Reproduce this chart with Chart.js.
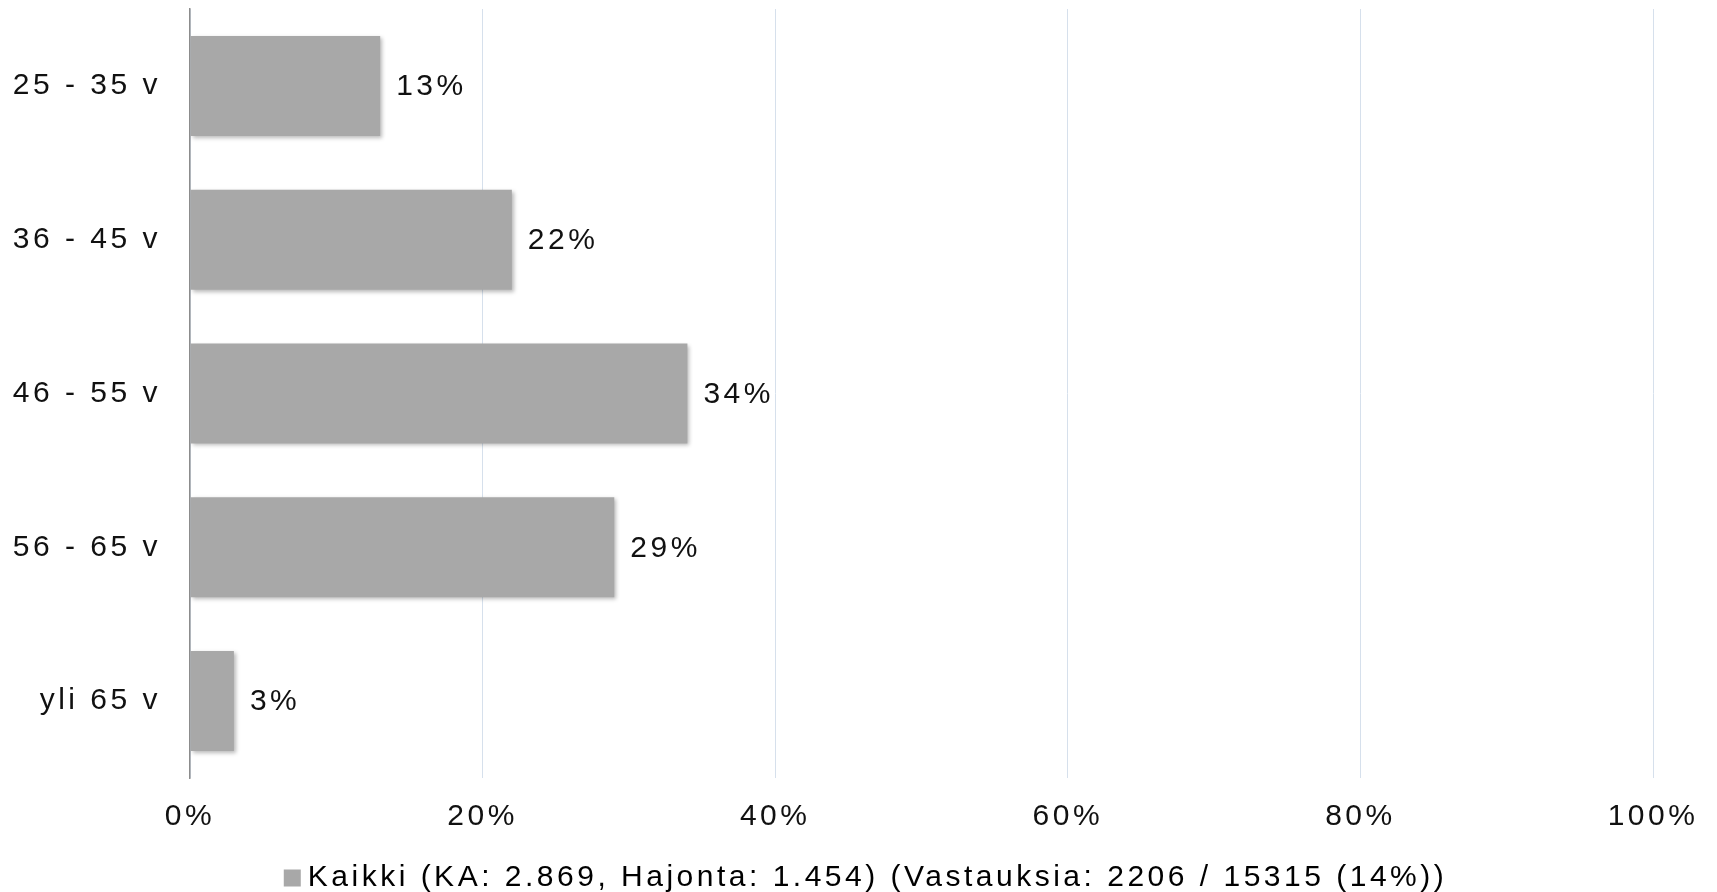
<!DOCTYPE html>
<html>
<head>
<meta charset="utf-8">
<script src="https://cdn.jsdelivr.net/npm/chart.js@4.4.1/dist/chart.umd.min.js"></script>
<style>
  html, body { margin: 0; padding: 0; background: #fff; }
  #wrap { width: 1717px; height: 892px; }
</style>
</head>
<body>
<div id="wrap"><canvas id="chart"></canvas></div>
<script>
// ikäryhmät ja osuudet (%)
const categories = ["25 - 35 v", "36 - 45 v", "46 - 55 v", "56 - 65 v", "yli 65 v"];
const values = [13, 22, 34, 29, 3];
const xTicks = [0, 20, 40, 60, 80, 100];
const seriesLabel = "Kaikki (KA: 2.869, Hajonta: 1.454) (Vastauksia: 2206 / 15315 (14%))";

const FONT = "'Liberation Sans', Arial, sans-serif";
const SPACING = "3.5px";
const BAR_COLOR = "#a8a8a8";

// kirjainväli canvasille (Chart.js ei tue suoraan)
const spacingPlugin = {
  id: "spacing",
  beforeLayout(chart) { chart.ctx.letterSpacing = SPACING; },
  afterLayout(chart) {
    // selite hieman oikealle kuten alkuperäisessä
    if (chart.legend) chart.legend.left += 70;
  },
  beforeDraw(chart) { chart.ctx.letterSpacing = SPACING; },
  afterDraw(chart) {
    // selitteen neliö lähemmäs tekstiä
    const hb = chart.legend && chart.legend.legendHitBoxes[0];
    if (!hb) return;
    const ctx = chart.ctx;
    ctx.save();
    ctx.fillStyle = BAR_COLOR;
    ctx.fillRect(hb.left + 8, hb.top + hb.height / 2 - 8.5, 17, 17);
    ctx.restore();
  },
};

// varjo palkeille + arvot palkkien perään
const shadowPlugin = {
  id: "barShadow",
  beforeDatasetsDraw(chart) {
    const ctx = chart.ctx;
    ctx.save();
    ctx.shadowColor = "rgba(0,0,0,0.28)";
    ctx.shadowBlur = 4;
    ctx.shadowOffsetX = 2;
    ctx.shadowOffsetY = 2;
  },
  afterDatasetsDraw(chart) {
    chart.ctx.restore();
    const ctx = chart.ctx;
    const meta = chart.getDatasetMeta(0);
    ctx.save();
    ctx.letterSpacing = SPACING;
    ctx.font = "30px " + FONT;
    ctx.fillStyle = "#111";
    ctx.textAlign = "left";
    ctx.textBaseline = "middle";
    meta.data.forEach((bar, i) => {
      ctx.fillText(values[i] + "%", bar.x + 16, bar.y + 1);
    });
    ctx.restore();
  },
};

const el = document.getElementById("chart");
new Chart(el.getContext("2d"), {
  type: "bar",
  data: {
    labels: categories,
    datasets: [{
      label: seriesLabel,
      data: values,
      backgroundColor: BAR_COLOR,
      borderWidth: 0,
      barPercentage: 0.65,
      categoryPercentage: 1,
    }],
  },
  options: {
    indexAxis: "y",
    responsive: true,
    maintainAspectRatio: false,
    animation: false,
    layout: { padding: { left: 0, right: 64, top: 9, bottom: 0 } },
    scales: {
      x: {
        min: 0,
        max: 100,
        afterBuildTicks: (s) => { s.ticks = xTicks.map((v) => ({ value: v })); },
        afterFit: (s) => { s.height = 85; s.paddingLeft = 0; s.paddingRight = 0; },
        ticks: {
          callback: (v) => v + "%",
          color: "#111",
          font: { family: FONT, size: 30 },
          padding: 21,
          maxRotation: 0,
        },
        grid: { color: "#d6e0ec", lineWidth: 1, drawTicks: false },
        border: { display: false },
      },
      y: {
        afterFit: (s) => { s.width = 190; s.paddingTop = 0; s.paddingBottom = 0; },
        ticks: {
          color: "#111",
          font: { family: FONT, size: 30 },
          padding: 29,
        },
        grid: { display: false, drawTicks: false },
        border: { display: true, color: "#8c8c8c", width: 1.5 },
      },
    },
    plugins: {
      legend: {
        position: "bottom",
        maxHeight: 29,
        labels: {
          color: "#111",
          font: { family: FONT, size: 30 },
          boxWidth: 17,
          boxHeight: 17,
          padding: 0,
          generateLabels: (chart) => [{
            text: seriesLabel,
            fillStyle: "rgba(0,0,0,0)",
            strokeStyle: "rgba(0,0,0,0)",
            lineWidth: 0,
            hidden: false,
            datasetIndex: 0,
          }],
        },
      },
      tooltip: { enabled: false },
    },
  },
  plugins: [spacingPlugin, shadowPlugin],
});
</script>
</body>
</html>
